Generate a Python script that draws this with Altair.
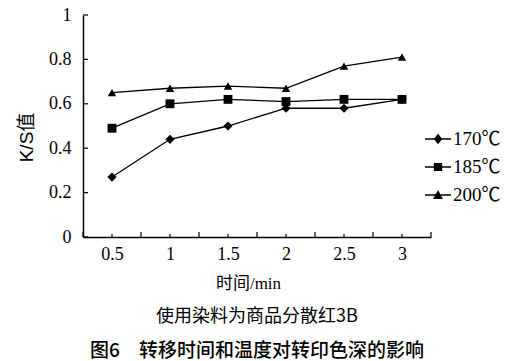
import altair as alt
import pandas as pd

# ---- data ----
times = [0.5, 1, 1.5, 2, 2.5, 3]
series_names = ["170℃", "185℃", "200℃"]
ks_170 = [0.27, 0.44, 0.50, 0.58, 0.58, 0.62]
ks_185 = [0.49, 0.60, 0.62, 0.61, 0.62, 0.62]
ks_200 = [0.65, 0.67, 0.68, 0.67, 0.77, 0.81]
y_ticks = [0, 0.2, 0.4, 0.6, 0.8, 1.0]
x_bounds = [0.25, 0.75, 1.25, 1.75, 2.25, 2.75, 3.25]

rows = []
for name, vals in zip(series_names, [ks_170, ks_185, ks_200]):
    for t, v in zip(times, vals):
        rows.append({"t": t, "ks": v, "series": name})
df = pd.DataFrame(rows)

W, H = 348, 222
NUM_FONT = "Liberation Serif"
SERIF_CJK = "Liberation Serif, Noto Sans CJK SC"
SANS_CJK = "Liberation Sans, Noto Sans CJK SC"
CJK = "Noto Sans CJK SC"

xscale = alt.Scale(domain=[0.25, 3.25], nice=False, zero=False)
yscale = alt.Scale(domain=[0, 1], nice=False)

xaxis = alt.Axis(values=times, ticks=False, grid=False, domainColor="black",
                 domainWidth=1.5, labelFontSize=18, labelFont=NUM_FONT,
                 labelColor="black", labelPadding=8, labelFlush=False, format="~g",
                 title="时间/min", titleFont=SERIF_CJK,
                 titleFontSize=17, titleFontWeight="normal", titleColor="black",
                 titleX=165, titleY=46, titleBaseline="middle")
yaxis = alt.Axis(values=y_ticks, ticks=False, grid=False, domainColor="black",
                 domainWidth=1.5, labelFontSize=18, labelFont=NUM_FONT,
                 labelColor="black", labelPadding=12, format="~g",
                 labelFlush=False,
                 title="K/S值", titleFont=SANS_CJK,
                 titleFontSize=19, titleFontWeight="normal", titleColor="black",
                 titleAngle=270, titleX=-57, titleY=122,
                 titleAlign="center", titleBaseline="middle")

lines = alt.Chart(df).mark_line(color="black", strokeWidth=1.3).encode(
    x=alt.X("t:Q", scale=xscale, axis=xaxis),
    y=alt.Y("ks:Q", scale=yscale, axis=yaxis),
    detail="series:N",
)

points = alt.Chart(df).mark_point(filled=True, opacity=1, color="black").encode(
    x=alt.X("t:Q", scale=xscale, axis=xaxis),
    y=alt.Y("ks:Q", scale=yscale, axis=yaxis),
    shape=alt.Shape("series:N", scale=alt.Scale(domain=series_names,
                    range=["diamond", "square", "triangle-up"]), legend=None),
    size=alt.Size("series:N", scale=alt.Scale(domain=series_names, range=[85, 72, 100]),
                  legend=None),
)

legend_paths = [
    "M-1,-0.05H1V0.05H-1ZM-0.33,0L0,-0.4L0.33,0L0,0.4Z",
    "M-1,-0.05H1V0.05H-1ZM-0.32,-0.3H0.32V0.3H-0.32Z",
    "M-1,-0.05H1V0.05H-1ZM-0.38,0.3L0,-0.38L0.38,0.3Z",
]
legend_layer = alt.Chart(df).mark_point(filled=True, opacity=1, color="black", size=676).encode(
    x=alt.X("t:Q", scale=xscale, axis=xaxis),
    y=alt.Y("ks:Q", scale=yscale, axis=yaxis),
    shape=alt.Shape("series:N", scale=alt.Scale(domain=series_names, range=legend_paths),
                    legend=alt.Legend(title=None, orient="none", legendX=342, legendY=111,
                                      symbolSize=676, symbolFillColor="black",
                                      symbolStrokeWidth=0, symbolOpacity=1,
                                      labelFont=SERIF_CJK,
                                      labelFontSize=19, labelColor="black",
                                      labelOffset=2, rowPadding=5, padding=0)),
).transform_filter("datum.ks > 5")

ytick_df = pd.DataFrame({"ks": y_ticks})
yticks = alt.Chart(ytick_df).mark_rule(color="black", strokeWidth=1.2).encode(
    y=alt.Y("ks:Q", scale=yscale, axis=yaxis),
    x=alt.value(0), x2=alt.value(5),
)
xmaj_df = pd.DataFrame({"t": x_bounds})
xmaj = alt.Chart(xmaj_df).mark_rule(color="black", strokeWidth=1.2).encode(
    x=alt.X("t:Q", scale=xscale, axis=xaxis),
    y=alt.value(H), y2=alt.value(H - 5),
)
xmin_df = pd.DataFrame({"t": times})
xmin = alt.Chart(xmin_df).mark_rule(color="black", strokeWidth=1.2).encode(
    x=alt.X("t:Q", scale=xscale, axis=xaxis),
    y=alt.value(H), y2=alt.value(H - 3),
)

chart = alt.layer(lines, points, legend_layer, yticks, xmaj, xmin).resolve_scale(
    shape="independent"
).properties(
    width=W, height=H,
    autosize=alt.AutoSizeParams(type="none"),
    padding={"left": 75, "top": 7, "right": 82, "bottom": 124},
    title=alt.TitleParams(
        text="使用染料为商品分散红3B",
        subtitle="图6　转移时间和温度对转印色深的影响",
        orient="bottom", anchor="middle", frame="group",
        font=CJK, fontSize=18, fontWeight="normal", color="black",
        subtitleFont=CJK, subtitleFontSize=19, subtitleFontWeight=500,
        subtitleColor="black", subtitlePadding=16, offset=17,
    ),
).configure_view(stroke=None)

chart.save("out.html", embed_options={"renderer": "svg", "actions": False})
